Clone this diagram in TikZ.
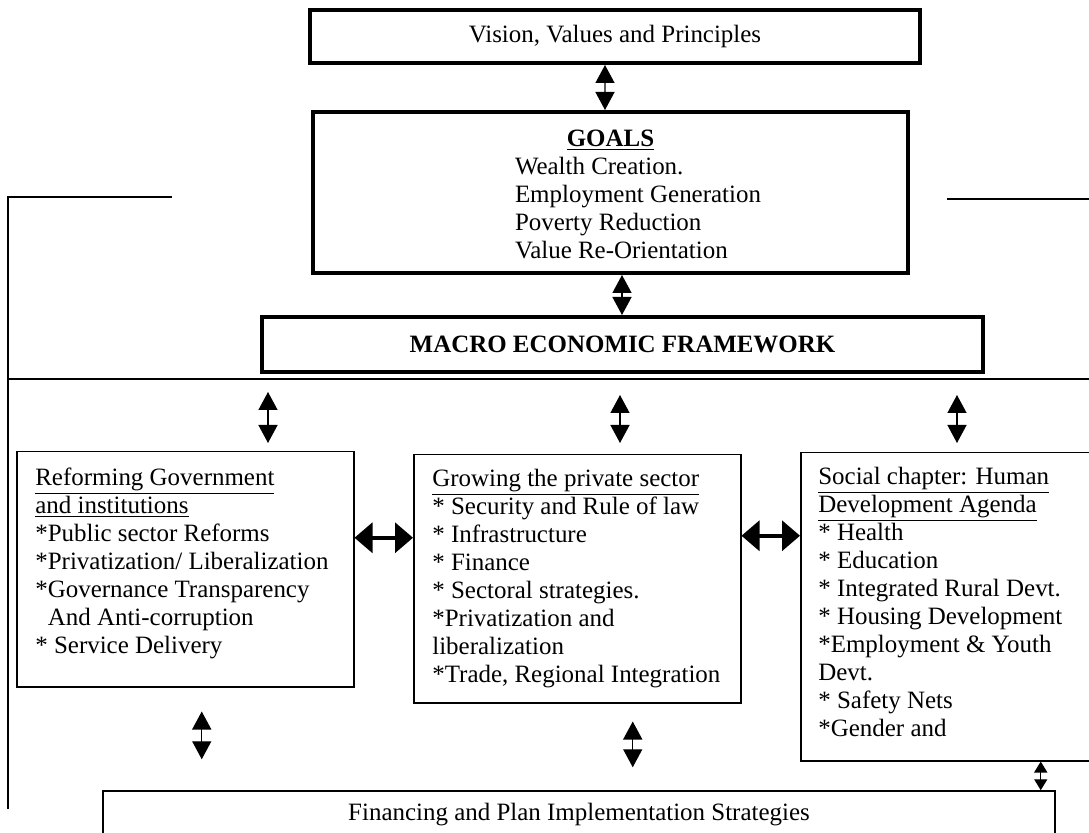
\documentclass[tikz,border=0pt]{standalone}
\usepackage{fontspec}
\setmainfont{Liberation Serif}
\usetikzlibrary{arrows.meta}

\tikzset{
  heavybox/.style={draw, line width=0.08cm, inner sep=0pt},
  panel/.style={draw, line width=0.03cm, inner sep=0pt, anchor=north west},
  paneltext/.style={anchor=north west, inner sep=0pt, align=left},
  updown/.style={{Triangle[width=0.38cm,length=0.36cm]}-{Triangle[width=0.38cm,length=0.36cm]}, line width=0.8pt},
  smallupdown/.style={{Triangle[width=0.26cm,length=0.22cm]}-{Triangle[width=0.26cm,length=0.22cm]}, line width=0.8pt},
  sideways/.style={{Triangle[width=0.6cm,length=0.36cm]}-{Triangle[width=0.6cm,length=0.36cm]}, line width=2pt},
  frame/.style={line width=0.03cm},
}

\begin{document}
\begin{tikzpicture}[font=\fontsize{14.2}{15.9}\selectfont]
\useasboundingbox (0,0) rectangle (21.78,-16.66);
\clip (0,0) rectangle (21.78,-16.66);

% top chain
\node[heavybox, minimum width=12.2cm, minimum height=1.06cm] (vision) at (12.3,-0.73) {Vision, Values and Principles};
\node[heavybox, minimum width=11.9cm, minimum height=3.22cm] (goals) at (12.21,-3.85) {};
\node[align=center, inner sep=0pt] (goalstext) at ([yshift=-0.12cm]goals.center)
  {\underline{\textbf{GOALS}}\\ \hspace*{1.1cm}\begin{tabular}[t]{@{}l@{}}Wealth Creation.\\ Employment Generation\\ Poverty Reduction\\ Value Re-Orientation\end{tabular}};
\node[heavybox, minimum width=14.42cm, minimum height=1.1cm] (macro) at (12.45,-6.89) {\textbf{MACRO ECONOMIC FRAMEWORK}};

\draw[updown] ([xshift=-0.2cm]vision.south) -- ([xshift=-0.11cm]goals.north);
\draw[updown] ([xshift=0.23cm]goals.south) -- ([xshift=-0.01cm]macro.north);

% frame lines
\coordinate (frametl) at (0.16,-3.94);
\coordinate (sepl) at (5.36,-7.58);
\coordinate (sepm) at (12.4,-7.58);
\coordinate (sepr) at (19.14,-7.58);
\draw[frame] (3.44,-3.94) -- (frametl) -- (0.16,-16.18);
\draw[frame] (18.94,-3.98) -- (21.78,-3.98);
\draw[frame] (frametl |- sepl) -- (21.78,-7.58);

% three panels
\node[panel, minimum width=6.74cm, minimum height=4.7cm] (reform) at (0.32,-9.02) {};
\node[paneltext] (reformtext) at ([xshift=0.38cm,yshift=-0.34cm]reform.north west)
  {\underline{Reforming Government}\\ \underline{and institutions}\\ *Public sector Reforms\\ *Privatization/ Liberalization\\ *Governance Transparency\\ \hspace*{0.25cm}And Anti-corruption\\ * Service Delivery};

\node[panel, minimum width=6.54cm, minimum height=4.96cm] (private) at (8.26,-9.08) {};
\node[paneltext] (privatetext) at ([xshift=0.38cm,yshift=-0.3cm]private.north west)
  {\underline{Growing the private sector}\\ * Security and Rule of law\\ * Infrastructure\\ * Finance\\ * Sectoral strategies.\\ *Privatization and\\ liberalization\\ *Trade, Regional Integration};

\node[panel, minimum width=6.2cm, minimum height=6.16cm] (social) at (16.0,-9.04) {};
\node[paneltext] (socialtext) at ([xshift=0.36cm,yshift=-0.3cm]social.north west)
  {\underline{Social chapter: Human}\\ \underline{Development Agenda}\\ * Health\\ * Education\\ * Integrated Rural Devt.\\ * Housing Development\\ *Employment \& Youth\\ Devt.\\ * Safety Nets\\ *Gender and};

\node[draw, line width=0.03cm, minimum width=19.04cm, minimum height=0.96cm] (finance) at (11.58,-16.30) {Financing and Plan Implementation Strategies};

% links
\draw[updown, shorten <=0.26cm, shorten >=0.16cm] (sepl) -- (sepl |- reform.north);
\draw[updown, shorten <=0.32cm, shorten >=0.22cm] (sepm) -- (sepm |- private.north);
\draw[updown, shorten <=0.32cm, shorten >=0.18cm] (sepr) -- (sepr |- social.north);
\draw[sideways] ([yshift=0.63cm]reform.east) -- ([yshift=0.63cm]reform.east -| private.west);
\draw[sideways] ([yshift=0.86cm]private.east) -- ([yshift=0.86cm]private.east -| social.west);
\draw[updown, shorten <=0.48cm, shorten >=0.62cm] ([xshift=0.33cm]reform.south) -- ([xshift=0.33cm]reform.south |- finance.north);
\draw[updown, shorten <=0.36cm, shorten >=0.46cm] ([xshift=1.11cm]private.south) -- ([xshift=1.11cm]private.south |- finance.north);
\draw[smallupdown] ([xshift=1.7cm]social.south) -- ([xshift=1.7cm]social.south |- finance.north);
\end{tikzpicture}
\end{document}
